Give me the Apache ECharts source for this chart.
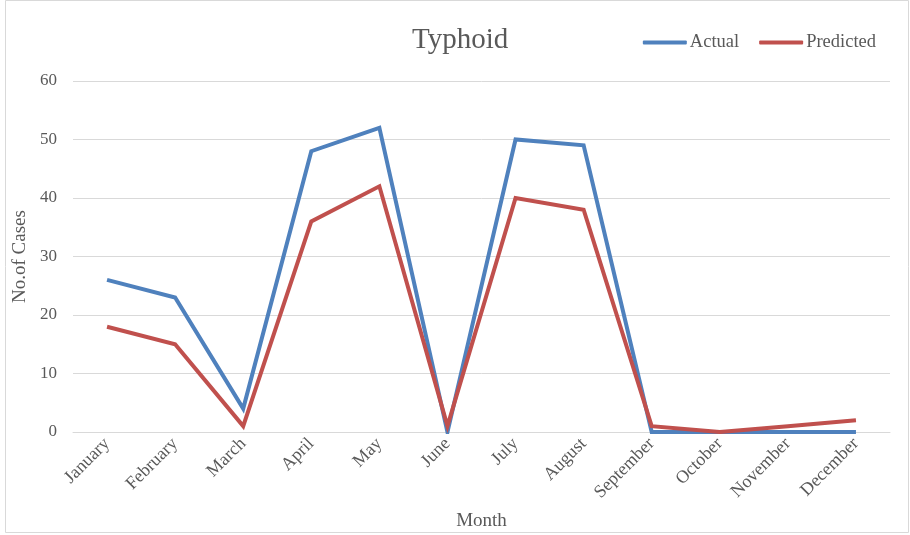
<!DOCTYPE html>
<html>
<head>
<meta charset="utf-8">
<script src="https://cdn.jsdelivr.net/npm/echarts@6/dist/echarts.min.js"></script>
<style>
  html, body { margin: 0; padding: 0; background: #fff; }
  #chart { width: 910px; height: 535px; }
</style>
</head>
<body>
<div id="chart"></div>
<script>
// Monthly typhoid cases: observed vs. model prediction
const months = ['January', 'February', 'March', 'April', 'May', 'June',
  'July', 'August', 'September', 'October', 'November', 'December'];
const actual = [26, 23, 4, 48, 52, 0, 50, 49, 0, 0, 0, 0];
const predicted = [18, 15, 1, 36, 42, 1, 40, 38, 1, 0, 1, 2];
const yTicks = [0, 10, 20, 30, 40, 50, 60];

const FONT = '"Liberation Serif", "Times New Roman", serif';
const TEXT = '#595959';

const chart = echarts.init(document.getElementById('chart'), null, { renderer: 'canvas' });
chart.setOption({
  animation: false,
  backgroundColor: '#fff',
  textStyle: { fontFamily: FONT, color: TEXT },
  graphic: [{
    type: 'rect',
    shape: { x: 5.5, y: 0.5, width: 903, height: 532 },
    style: { fill: 'none', stroke: '#d9d9d9', lineWidth: 1 },
    silent: true
  }],
  title: {
    text: 'Typhoid',
    left: 407, top: 21,
    textStyle: { fontFamily: FONT, fontSize: 29, fontWeight: 'normal', color: TEXT }
  },
  legend: {
    right: 29, top: 28,
    itemWidth: 44, itemHeight: 4, itemGap: 20,
    icon: 'roundRect',
    textStyle: { fontFamily: FONT, fontSize: 18.5, color: TEXT, padding: [0, 0, 0, -2] },
    data: ['Actual', 'Predicted']
  },
  grid: { left: 73, right: 20, top: 81, bottom: 103, containLabel: false, outerBoundsMode: 'none' },
  xAxis: {
    type: 'category',
    data: months,
    boundaryGap: true,
    name: 'Month',
    nameLocation: 'middle',
    nameGap: 80,
    nameTextStyle: { fontFamily: FONT, fontSize: 19, color: TEXT },
    axisLine: { lineStyle: { color: '#d9d9d9', width: 1 } },
    axisTick: { show: false },
    axisLabel: { rotate: 45, fontFamily: FONT, fontSize: 18, color: TEXT, margin: 9, interval: 0 }
  },
  yAxis: {
    type: 'value',
    min: yTicks[0], max: yTicks[yTicks.length - 1], interval: 10,
    name: 'No.of Cases',
    nameLocation: 'middle',
    nameGap: 40,
    nameTextStyle: { fontFamily: FONT, fontSize: 19, color: TEXT },
    axisLine: { show: false },
    axisTick: { show: false },
    axisLabel: { fontFamily: FONT, fontSize: 17, color: TEXT, margin: 16 },
    splitLine: { lineStyle: { color: '#d9d9d9', width: 1 } }
  },
  series: [
    {
      name: 'Actual', type: 'line', data: actual,
      symbol: 'none', color: '#4F81BD',
      lineStyle: { width: 4, color: '#4F81BD', join: 'miter' }, z: 2
    },
    {
      name: 'Predicted', type: 'line', data: predicted,
      symbol: 'none', color: '#C0504D',
      lineStyle: { width: 4, color: '#C0504D', join: 'miter' }, z: 3
    }
  ]
});
</script>
</body>
</html>
